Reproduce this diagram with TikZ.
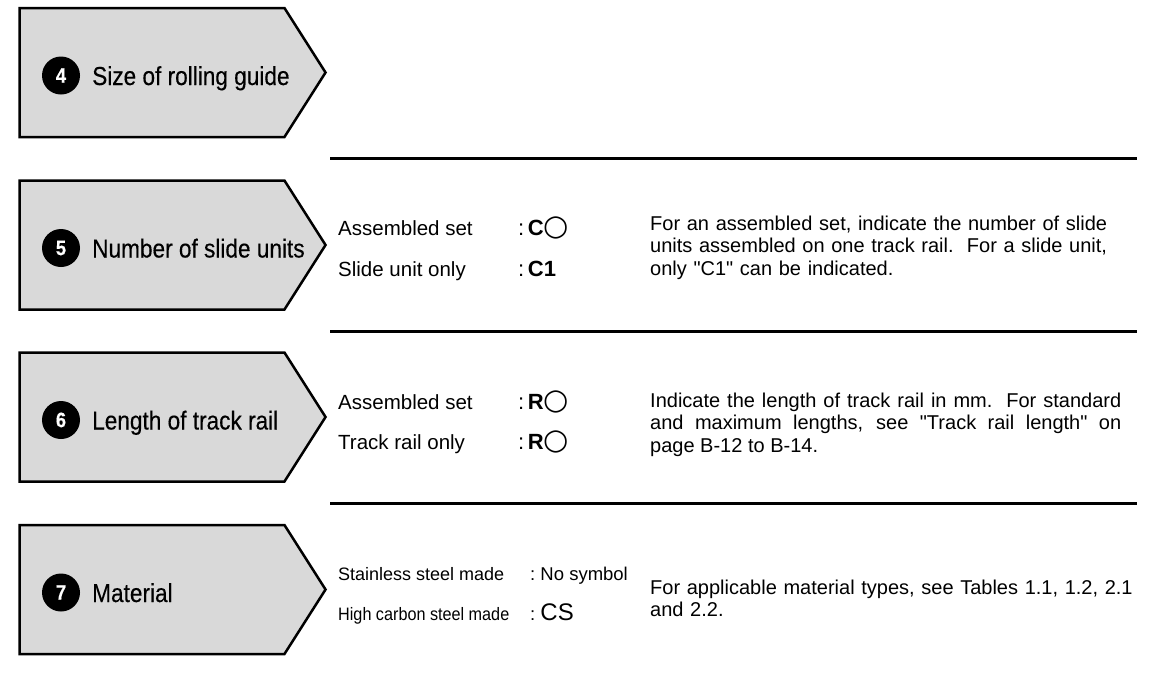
\documentclass[tikz,border=0pt]{standalone}
\usepackage{fontspec}
\setmainfont{Liberation Sans}
\newfontfamily\condfont[FakeStretch=0.87,FakeBold=0.3]{Liberation Sans}
\newfontfamily\narrowfont[FakeStretch=0.9]{Liberation Sans}
\newfontfamily\symfont{DejaVu Sans}
\usetikzlibrary{shapes.symbols,positioning}
\newcommand{\ring}{{\symfont\mdseries\fontsize{29}{26}\selectfont ○}}

\begin{document}
\begin{tikzpicture}[
 x=1pt, y=-1pt,
 tagbox/.style={signal, signal to=east, signal pointer angle=115, draw, line width=2.5pt, fill=black!15, minimum width=306pt, minimum height=129pt, inner sep=0pt},
 badge/.style={circle, fill=black, text=white, minimum size=38pt, inner sep=0pt, font=\condfont\bfseries\fontsize{21}{21}\selectfont},
 title/.style={anchor=base west, inner sep=0pt, font=\condfont\fontsize{26}{30}\selectfont},
 lbl/.style={anchor=base west, inner sep=0pt, font=\fontsize{20.5}{22}\selectfont},
 code/.style={lbl, font=\fontsize{22}{22}\selectfont\bfseries},
 desc/.style={anchor=base west, inner sep=0pt, text width=500pt, align=left, font=\fontsize{20}{22.7}\selectfont},
 rule/.style={line width=3pt}]
\useasboundingbox (0,0) rectangle (1153,672);
% item 4
\node[tagbox] (box4) at (152,72.5) {};
\node[badge] (b4) at (61,75.5) {4};
\node[title] (t4) at (92,85) {Size of rolling guide};
\draw[rule] (330,158.5) -- (1137,158.5);
% item 5
\node[tagbox] (box5) at (152,245) {};
\node[badge] (b5) at (61,248) {5};
\node[title] (t5) at (92,257.5) {Number of slide units};
\node[lbl] (l5a) at (338,235) {Assembled set};
\node[lbl] (l5b) at (338,276) {Slide unit only};
\node[code] (c5a) at (518,235) {{\mdseries:}\,C\ring};
\node[code] (c5b) at (518,276) {{\mdseries:}\,C1};
\node[desc] (d5) at (650,230) {For an assembled set, indicate the number of slide\\
 units assembled on one track rail.\ \ For a slide unit,\\ only \textquotedbl C1\textquotedbl\ can be indicated.};
\draw[rule] (330,331) -- (1137,331);
% item 6
\node[tagbox] (box6) at (152,417) {};
\node[badge] (b6) at (61,420) {6};
\node[title] (t6) at (92,429.5) {Length of track rail};
\node[lbl] (l6a) at (338,409) {Assembled set};
\node[lbl] (l6b) at (338,449) {Track rail only};
\node[code] (c6a) at (518,409) {{\mdseries:}\,R\ring};
\node[code] (c6b) at (518,449) {{\mdseries:}\,R\ring};
\node[desc, text width=471pt, align=justify] (d6) at (650,407) {Indicate the length of track rail in mm.\ \ For standard\linebreak
 and maximum lengths, see \textquotedbl Track rail length\textquotedbl\ on\linebreak page B-12 to B-14.};
\draw[rule] (330,503.5) -- (1137,503.5);
% item 7
\node[tagbox] (box7) at (152,589.5) {};
\node[badge] (b7) at (61,592.5) {7};
\node[title] (t7) at (92,602) {Material};
\node[lbl, font=\fontsize{18}{22}\selectfont] (l7a) at (338,580) {Stainless steel made};
\node[lbl, font=\narrowfont\fontsize{18}{22}\selectfont] (l7b) at (338,620) {High carbon steel made};
\node[lbl, font=\fontsize{18.5}{22}\selectfont] (c7a) at (530,580) {:\ No symbol};
\node[lbl, font=\fontsize{18.5}{22}\selectfont] (c7b) at (530,620) {:\ {\fontsize{24}{24}\selectfont CS}};
\node[desc] (d7) at (650,594) {For applicable material types, see Tables 1.1, 1.2, 2.1\\ and 2.2.};
\end{tikzpicture}
\end{document}
